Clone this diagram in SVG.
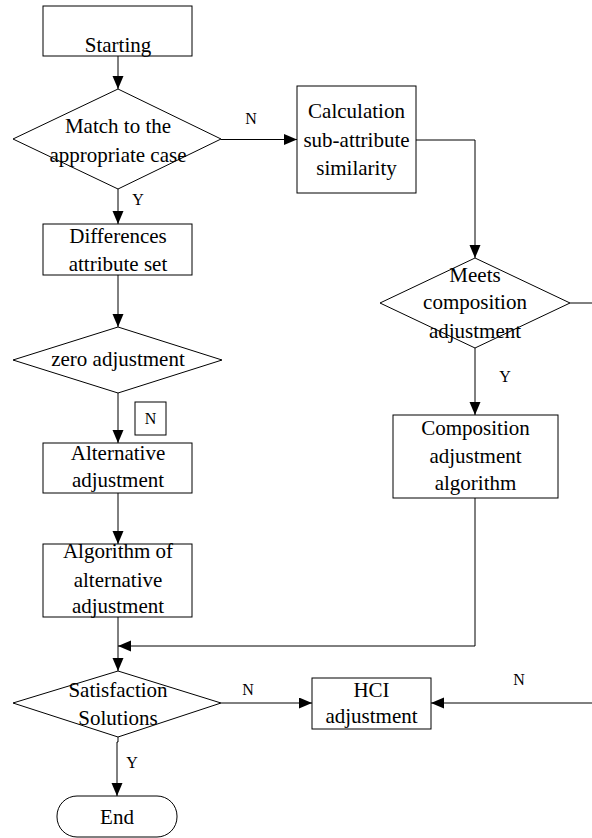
<svg xmlns="http://www.w3.org/2000/svg" width="592" height="838" viewBox="0 0 592 838">
<defs>
<marker id="arr" markerUnits="userSpaceOnUse" markerWidth="14" markerHeight="12" refX="13" refY="5.5" orient="auto">
<path d="M0,0 L13,5.5 L0,11 Z" fill="#000"/>
</marker>
<style>
.s{fill:#fff;stroke:#000;stroke-width:1}
.t{font-family:'Liberation Serif','Times New Roman','DejaVu Serif',serif;font-size:21px;fill:#000;text-anchor:middle}
.l{font-family:'Liberation Serif','Times New Roman','DejaVu Serif',serif;font-size:16px;fill:#000;text-anchor:middle}
.c{fill:none;stroke:#000;stroke-width:1;marker-end:url(#arr)}
</style>
</defs>
<rect width="592" height="838" fill="#fff"/>
<g id="connectors">
<path class="c" d="M118,56 V89"/>
<path class="c" d="M221,139.5 H297"/>
<path class="c" d="M118,189 V224"/>
<path class="c" d="M118,275 V327"/>
<path class="c" d="M118,393 V443"/>
<path class="c" d="M118,493 V544"/>
<path class="c" d="M118,617 V671"/>
<path class="c" d="M416,140 H475 V258"/>
<path class="c" d="M475,348 V415"/>
<path class="c" d="M475,498 V646 H118"/>
<path class="c" d="M221,703 H312"/>
<path class="c" d="M570,303 H620 V703 H431"/>
<path class="c" d="M118,737 V742 H117 V796"/>
<text class="l" x="251" y="124">N</text>
<text class="l" x="138" y="205">Y</text>
<text class="l" x="505" y="382">Y</text>
<text class="l" x="248" y="695">N</text>
<text class="l" x="519" y="685">N</text>
<text class="l" x="132" y="768">Y</text>
<rect class="s" x="135" y="402" width="31" height="33"/>
<text class="l" x="150.5" y="424">N</text>
</g>
<g id="start">
<rect class="s" x="43" y="6" width="149" height="50"/>
<text class="t" x="118" y="52">Starting</text>
</g>
<g id="match">
<polygon class="s" points="118,89 221,139 118,189 13,139"/>
<text class="t" x="118" y="133">Match to the</text>
<text class="t" x="118" y="162">appropriate case</text>
</g>
<g id="calc">
<rect class="s" x="297" y="86" width="119" height="107"/>
<text class="t" x="356.5" y="118">Calculation</text>
<text class="t" x="356.5" y="147">sub-attribute</text>
<text class="t" x="356.5" y="175">similarity</text>
</g>
<g id="diff">
<rect class="s" x="43" y="224" width="149" height="51"/>
<text class="t" x="118" y="243">Differences</text>
<text class="t" x="118" y="271">attribute set</text>
</g>
<g id="zero">
<polygon class="s" points="118,327 222,360 118,393 13,360"/>
<text class="t" x="118" y="366">zero adjustment</text>
</g>
<g id="alt">
<rect class="s" x="43" y="443" width="149" height="50"/>
<text class="t" x="118" y="460">Alternative</text>
<text class="t" x="118" y="487">adjustment</text>
</g>
<g id="algalt">
<rect class="s" x="43" y="544" width="149" height="73"/>
<text class="t" x="118" y="558">Algorithm of</text>
<text class="t" x="118" y="587">alternative</text>
<text class="t" x="118" y="613">adjustment</text>
</g>
<g id="meets">
<polygon class="s" points="475,258 570,303 475,348 380,303"/>
<text class="t" x="475" y="282">Meets</text>
<text class="t" x="475" y="309">composition</text>
<text class="t" x="475" y="338">adjustment</text>
</g>
<g id="comp">
<rect class="s" x="393" y="415" width="165" height="83"/>
<text class="t" x="475.5" y="435">Composition</text>
<text class="t" x="475.5" y="463">adjustment</text>
<text class="t" x="475.5" y="490">algorithm</text>
</g>
<g id="satis">
<polygon class="s" points="118,671 221,703 118,737 13,703"/>
<text class="t" x="118" y="697">Satisfaction</text>
<text class="t" x="118" y="725">Solutions</text>
</g>
<g id="hci">
<rect class="s" x="312" y="678" width="119" height="51"/>
<text class="t" x="371.5" y="697">HCI</text>
<text class="t" x="371.5" y="723">adjustment</text>
</g>
<g id="end">
<rect class="s" x="57" y="796" width="120" height="41" rx="20" ry="20"/>
<text class="t" x="117" y="824">End</text>
</g>
</svg>
